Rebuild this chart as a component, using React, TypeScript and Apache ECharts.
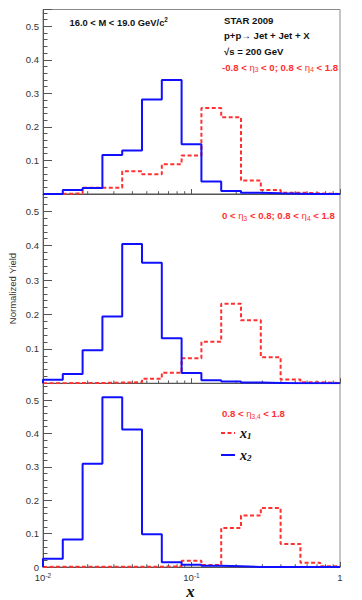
import React, { useEffect, useRef } from 'react';
import * as echarts from 'echarts';

// Histogram bin edges (15 log-spaced bins, 0.01 .. 1)
const BIN_EDGES = [0.01, 0.01359, 0.01848, 0.02512, 0.03415, 0.04642, 0.0631, 0.08577, 0.1166, 0.1585, 0.2154, 0.2929, 0.3981, 0.5412, 0.7356, 1.0];

// Panel 1: -0.8 < eta3 < 0; 0.8 < eta4 < 1.8
const P1_X1 = [0, 0.002, 0.019, 0.019, 0.068, 0.059, 0.089, 0.115, 0.256, 0.229, 0.04, 0.012, 0.004, 0.002, 0];
const P1_X2 = [0, 0.012, 0.018, 0.116, 0.13, 0.282, 0.34, 0.148, 0.037, 0.009, 0.004, 0.002, 0.001, 0, 0];
// Panel 2: 0 < eta3 < 0.8; 0.8 < eta4 < 1.8
const P2_X1 = [0, 0.001, 0.001, 0.002, 0.003, 0.013, 0.031, 0.073, 0.121, 0.231, 0.183, 0.076, 0.011, 0.003, 0.001];
const P2_X2 = [0.01, 0.027, 0.096, 0.194, 0.405, 0.35, 0.131, 0.03, 0.009, 0.005, 0.002, 0.001, 0, 0, 0];
// Panel 3: 0.8 < eta3,4 < 1.8
const P3_X1 = [0.001, 0.001, 0.001, 0.001, 0.001, 0.001, 0.002, 0.019, 0.006, 0.117, 0.154, 0.177, 0.069, 0.013, 0.002];
const P3_X2 = [0.025, 0.082, 0.309, 0.508, 0.412, 0.098, 0.014, 0.007, 0.004, 0.002, 0, 0, 0, 0, 0];

const X_MINOR_TICKS = [0.02, 0.03, 0.04, 0.05, 0.06, 0.07, 0.08, 0.09, 0.2, 0.3, 0.4, 0.5, 0.6, 0.7, 0.8, 0.9];

const PANEL_LABELS = [
  '{n|-0.8 < }{e|η}{s|3}{n| < 0; 0.8 < }{e|η}{s|4}{n| < 1.8}',
  '{n|0 < }{e|η}{s|3}{n| < 0.8; 0.8 < }{e|η}{s|4}{n| < 1.8}',
  '{n|0.8 < }{e|η}{s|3,4}{n| < 1.8}',
];
const INFO_LINES = ['STAR 2009', 'p+p→ Jet + Jet + X', '√s = 200 GeV'];
const MASS_LABEL = '{n|16.0 < M < 19.0 GeV/c}{sup|2}';
const Y_TITLE = 'Normalized Yield';
const X_TITLE = 'x';

const RED = '#ff3030';
const BLUE = '#1010ff';
const SANS = '"Liberation Sans", Arial, Helvetica, sans-serif';
const SERIF = '"Liberation Serif", "Times New Roman", serif';

function steps(values: number[]): number[][] {
  const n = values.length;
  const pts: number[][] = [[BIN_EDGES[0], 0]];
  values.forEach((v, i) => pts.push([BIN_EDGES[i], v]));
  pts.push([BIN_EDGES[n], values[n - 1]]);
  pts.push([BIN_EDGES[n], 0]);
  return pts;
}

const PANELS = [
  { top: 9.5, height: 184.5, x1: P1_X1, x2: P1_X2, labelY: 67 },
  { top: 194, height: 189.3, x1: P2_X1, x2: P2_X2, labelY: 215.5 },
  { top: 383.3, height: 183.7, x1: P3_X1, x2: P3_X2, labelY: 413.5 },
];

const redRich = {
  n: { fontFamily: SANS, fontSize: 9.6, fontWeight: 'bold', fill: RED, lineHeight: 12, verticalAlign: 'middle' },
  e: { fontFamily: SANS, fontSize: 9.6, fill: RED, lineHeight: 12, verticalAlign: 'middle' },
  s: { fontFamily: SANS, fontSize: 6.5, fill: RED, lineHeight: 5.5, verticalAlign: 'bottom' },
};

export default function App() {
  const ref = useRef<HTMLDivElement>(null);
  useEffect(() => {
    if (!ref.current) return;
    const chart = echarts.init(ref.current, undefined, { renderer: 'svg' });

    const grids: any[] = [];
    const xAxes: any[] = [];
    const yAxes: any[] = [];
    const series: any[] = [];

    PANELS.forEach((p, i) => {
      grids.push({
        left: 43, top: p.top, width: 297, height: p.height,
        show: true, borderColor: '#8a8a8a', borderWidth: 1,
        outerBoundsMode: 'none', containLabel: false,
      });
      xAxes.push({
        type: 'log', logBase: 10, min: 0.01, max: 1, gridIndex: i,
        axisLine: { show: true, lineStyle: { color: '#555', width: 1 } },
        axisTick: { show: true, inside: true, length: 5, lineStyle: { color: '#555' } },
        splitLine: { show: false },
        axisLabel: {
          show: i === 2, margin: 5,
          formatter: (v: number) => {
            const e = Math.round(Math.log10(v));
            return e === 0 ? '{b|1}' : '{b|10}{sup|' + e + '}';
          },
          rich: {
            b: { fontFamily: SANS, fontSize: 9.5, color: '#333', lineHeight: 10, verticalAlign: 'middle' },
            sup: { fontFamily: SANS, fontSize: 6.5, color: '#333', lineHeight: 6, verticalAlign: 'top' },
          },
        },
      });
      yAxes.push({
        type: 'value', min: 0, max: 0.55, interval: 0.1, gridIndex: i, position: 'left',
        axisLine: { show: true, lineStyle: { color: '#555', width: 1 } },
        axisTick: { show: true, inside: true, length: 9, lineStyle: { color: '#555' } },
        splitLine: { show: false },
        axisLabel: {
          margin: 4, fontFamily: SANS, fontSize: 9.5, lineHeight: 9, color: '#333',
          formatter: (v: number) => {
            const k = Math.round(v * 10);
            if (Math.abs(v * 10 - k) > 1e-6) return '';
            if (k === 0) return i === 2 ? '0' : '';
            return (k / 10).toFixed(1);
          },
        },
      });
      yAxes.push({
        type: 'value', min: 0, max: 0.55, interval: 0.02, gridIndex: i, position: 'left', offset: 0,
        axisLine: { show: false },
        axisTick: { show: true, inside: true, length: 4.5, lineStyle: { color: '#555' } },
        splitLine: { show: false },
        axisLabel: { show: false },
      });
      series.push({
        type: 'custom', xAxisIndex: i, yAxisIndex: 2 * i, silent: true, clip: false, z: 1,
        data: X_MINOR_TICKS.map((v) => [v, 0]),
        renderItem: (_params: any, api: any) => {
          const pt = api.coord([api.value(0), 0]);
          return {
            type: 'line',
            shape: { x1: pt[0], y1: pt[1], x2: pt[0], y2: pt[1] - 2.8 },
            style: { stroke: '#555', lineWidth: 1 },
          };
        },
      });
      series.push({
        type: 'line', name: 'x1', xAxisIndex: i, yAxisIndex: 2 * i, step: 'end',
        data: steps(p.x1), symbol: 'none', z: 2,
        lineStyle: { color: RED, width: 2, type: [4, 2.5] }, itemStyle: { color: RED },
      });
      series.push({
        type: 'line', name: 'x2', xAxisIndex: i, yAxisIndex: 2 * i, step: 'end',
        data: steps(p.x2), symbol: 'none', z: 3,
        lineStyle: { color: BLUE, width: 2 }, itemStyle: { color: BLUE },
      });
    });

    const graphics: any[] = [
      {
        type: 'text', x: 69.5, y: 22,
        style: {
          text: MASS_LABEL, verticalAlign: 'middle', align: 'left',
          rich: {
            n: { fontFamily: SANS, fontSize: 9.4, fontWeight: 'bold', fill: '#111', lineHeight: 12, verticalAlign: 'middle' },
            sup: { fontFamily: SANS, fontSize: 6.3, fontWeight: 'bold', fill: '#111', lineHeight: 6, verticalAlign: 'top' },
          },
        },
      },
      ...INFO_LINES.map((t, k) => ({
        type: 'text', x: 224, y: 20.5 + k * 15.3,
        style: { text: t, verticalAlign: 'middle', align: 'left', font: 'bold 9.6px ' + SANS, fill: '#111' },
      })),
      ...PANELS.map((p, i) => ({
        type: 'text', x: 222, y: p.labelY,
        style: { text: PANEL_LABELS[i], verticalAlign: 'middle', align: 'left', rich: redRich },
      })),
      {
        type: 'text', x: 12, y: 288.5, rotation: Math.PI / 2,
        style: { text: Y_TITLE, align: 'center', verticalAlign: 'middle', font: '9.5px ' + SANS, fill: '#333' },
      },
      {
        type: 'text', x: 190.5, y: 591,
        style: { text: X_TITLE, align: 'center', verticalAlign: 'middle', font: 'italic bold 17px ' + SERIF, fill: '#111' },
      },
    ];

    chart.setOption({
      animation: false,
      backgroundColor: '#fff',
      grid: grids,
      xAxis: xAxes,
      yAxis: yAxes,
      series,
      legend: {
        data: ['x1', 'x2'], orient: 'vertical', left: 220, top: 426,
        itemWidth: 14, itemHeight: 10, itemGap: 8, padding: 0,
        itemStyle: { opacity: 0 },
        selectedMode: false,
        formatter: (name: string) => '{x|x}{s|' + name.slice(1) + '}',
        textStyle: {
          rich: {
            x: { fontFamily: SERIF, fontStyle: 'italic', fontWeight: 'bold', fontSize: 14, color: '#111', lineHeight: 14, verticalAlign: 'middle' },
            s: { fontFamily: SERIF, fontStyle: 'italic', fontWeight: 'bold', fontSize: 9, color: '#111', lineHeight: 7, verticalAlign: 'bottom' },
          },
        },
      },
      graphic: graphics,
    });
    return () => chart.dispose();
  }, []);
  return <div ref={ref} style={{ position: 'absolute', left: 0, top: 0, width: 362, height: 600, background: '#fff' }} />;
}
